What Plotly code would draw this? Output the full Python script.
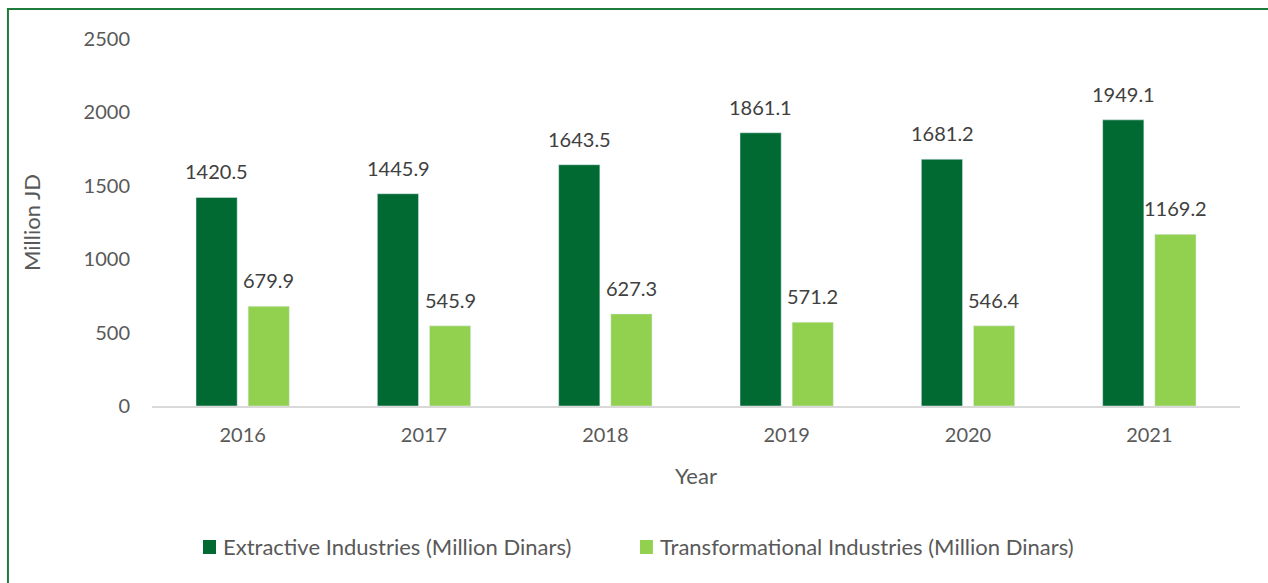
import plotly.graph_objects as go

years = ["2016", "2017", "2018", "2019", "2020", "2021"]
extractive = [1420.5, 1445.9, 1643.5, 1861.1, 1681.2, 1949.1]
transformational = [679.9, 545.9, 627.3, 571.2, 546.4, 1169.2]
series_names = ["Extractive Industries (Million Dinars)",
                "Transformational Industries (Million Dinars)"]
y_ticks = [0, 500, 1000, 1500, 2000, 2500]

dark = "#006A32"
light = "#92D050"
font_family = "Lato, 'Open Sans', sans-serif"

fig = go.Figure()
fig.add_trace(go.Bar(x=years, y=extractive, name=series_names[0], marker=dict(color=dark)))
fig.add_trace(go.Bar(x=years, y=transformational, name=series_names[1], marker=dict(color=light)))

# data labels (category index positions on the category axis)
for i, v in enumerate(extractive):
    fig.add_annotation(x=i, y=v, text=f"{v:.1f}", showarrow=False, xshift=-26, yshift=12,
                       yanchor="bottom", font=dict(size=20, color="#404040", family=font_family))
for i, v in enumerate(transformational):
    fig.add_annotation(x=i, y=v, text=f"{v:.1f}", showarrow=False, xshift=26, yshift=12,
                       yanchor="bottom", font=dict(size=20, color="#404040", family=font_family))

# outer frame (left/top visible)
fig.add_shape(type="rect", xref="paper", yref="paper", x0=-0.1324, x1=1.05, y0=-0.55, y1=1.0817,
              line=dict(color="#1E7B3A", width=2), fillcolor="rgba(0,0,0,0)", layer="below")

# legend drawn as swatches + labels, positioned like the reference
legend_items = [(series_names[0], dark, 0.0469, 0.0634), (series_names[1], light, 0.4485, 0.4650)]
for name, col, sx, tx in legend_items:
    fig.add_shape(type="rect", xref="paper", yref="paper", x0=sx, x1=sx + 0.0119,
                  y0=-0.4033, y1=-0.3651, line=dict(width=0), fillcolor=col)
    fig.add_annotation(xref="paper", yref="paper", x=tx, y=-0.384, xanchor="left",
                       yanchor="middle", text=name, showarrow=False,
                       font=dict(size=22, color="#595959", family=font_family))

fig.update_layout(
    width=1268, height=583,
    margin=dict(l=152, r=28, t=39, b=177),
    paper_bgcolor="white", plot_bgcolor="white",
    barmode="group", bargap=0.425, bargroupgap=0.21,
    font=dict(family=font_family, color="#595959", size=20),
    xaxis=dict(type="category", range=[-0.5, len(years) - 0.5], showline=True,
               linecolor="#D9D9D9", linewidth=2, ticks="",
               showgrid=False, automargin=False, ticklabelstandoff=10,
               tickfont=dict(size=20, color="#595959"),
               title=dict(text="Year", font=dict(size=22, color="#595959"), standoff=24)),
    yaxis=dict(range=[0, 2500], tickvals=y_ticks, showgrid=False, zeroline=False, showline=False,
               automargin=False,
               tickfont=dict(size=20, color="#595959"), ticklabelstandoff=21,
               title=dict(text="Million JD", font=dict(size=22, color="#595959"), standoff=36)),
    showlegend=False,
)

fig.write_html("out.html", config={"displayModeBar": False},
               post_script="document.body.style.margin='0';")
